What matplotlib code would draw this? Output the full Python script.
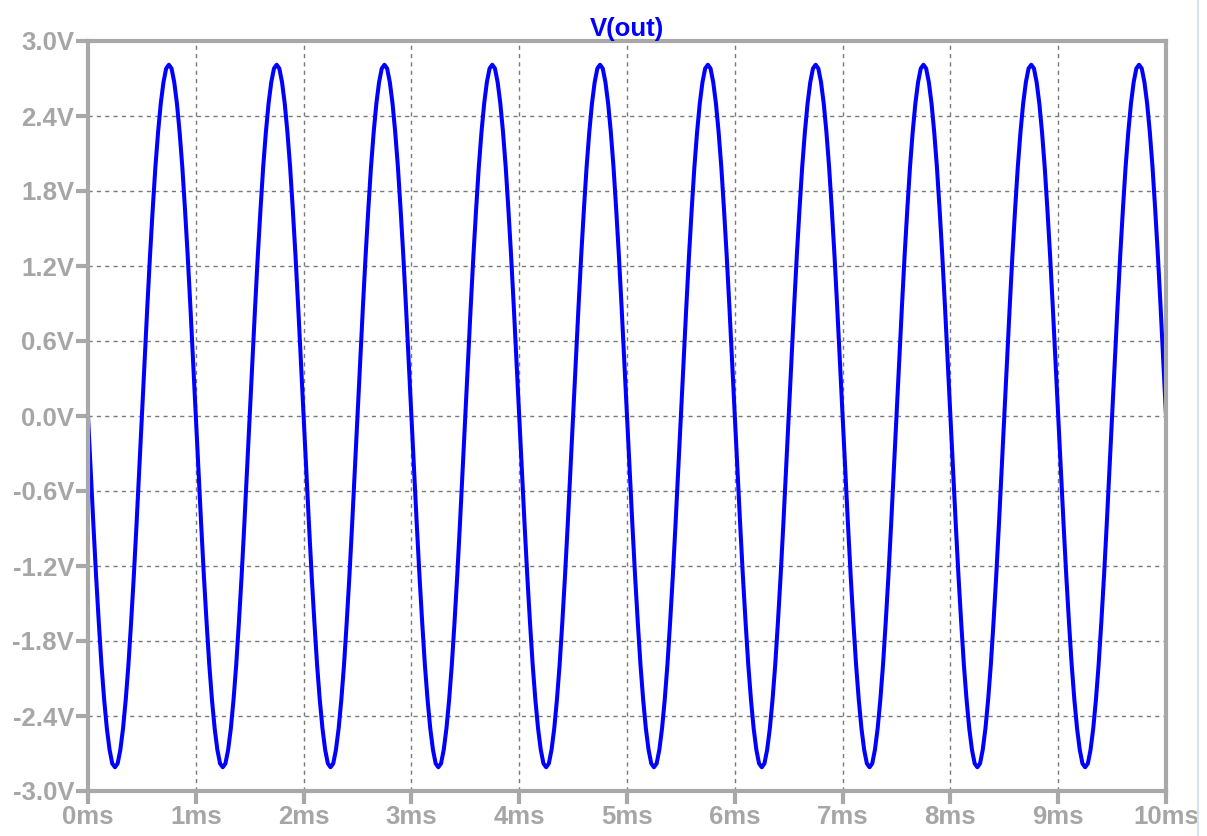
import numpy as np
import matplotlib.pyplot as plt
from matplotlib.lines import Line2D

# one period of V(out), every 0.025 ms (volts)
cycle_v = [0.00, -0.44, -0.87, -1.28, -1.65, -1.99, -2.27, -2.50, -2.67, -2.78,
           -2.81, -2.78, -2.67, -2.50, -2.27, -1.99, -1.65, -1.28, -0.87, -0.44,
           0.00, 0.44, 0.87, 1.28, 1.65, 1.99, 2.27, 2.50, 2.67, 2.78,
           2.81, 2.78, 2.67, 2.50, 2.27, 1.99, 1.65, 1.28, 0.87, 0.44]
n_cycles = 10
step_ms = 0.025

v_out = list(np.tile(cycle_v, n_cycles)) + [0.00]
t_ms = np.arange(len(v_out)) * step_ms

yticks = [-3.0, -2.4, -1.8, -1.2, -0.6, 0.0, 0.6, 1.2, 1.8, 2.4, 3.0]
xticks = list(range(0, 11))

gray = '#a8a8a8'
txt = '#a6a6a6'

plt.rcParams['font.family'] = ['Liberation Sans', 'DejaVu Sans']

fig = plt.figure(figsize=(12.07, 8.36), dpi=100)
ax = fig.add_axes([88/1207, 1 - 791/836, (1166 - 88)/1207, (791 - 41)/836])

ax.plot(t_ms, v_out, color='#0000ff', lw=2.9)

ax.set_xlim(0, 10)
ax.set_ylim(-3.0, 3.0)
ax.set_xticks(xticks)
ax.set_xticklabels([f'{x}ms' for x in xticks])
ax.set_yticks(yticks)
ax.set_yticklabels([f'{y:.1f}V' for y in yticks])

ax.grid(True, color='#7a7a7a', linestyle=(0, (3, 3)), lw=1)
for s in ax.spines.values():
    s.set_color(gray)
    s.set_linewidth(3)
ax.tick_params(axis='both', colors=gray, width=3, length=9, labelcolor=txt,
               labelsize=18.5, pad=1)
for lab in ax.get_xticklabels() + ax.get_yticklabels():
    lab.set_fontweight('bold')

ax.set_title('V(out)', color='#0000ff', fontsize=18.5, fontweight='bold', pad=2)

# window border on the right
fig.add_artist(Line2D([1198/1207, 1198/1207], [0, 1], color='#d6e4f2', lw=1.5))

fig.savefig('out.png', dpi=100)
